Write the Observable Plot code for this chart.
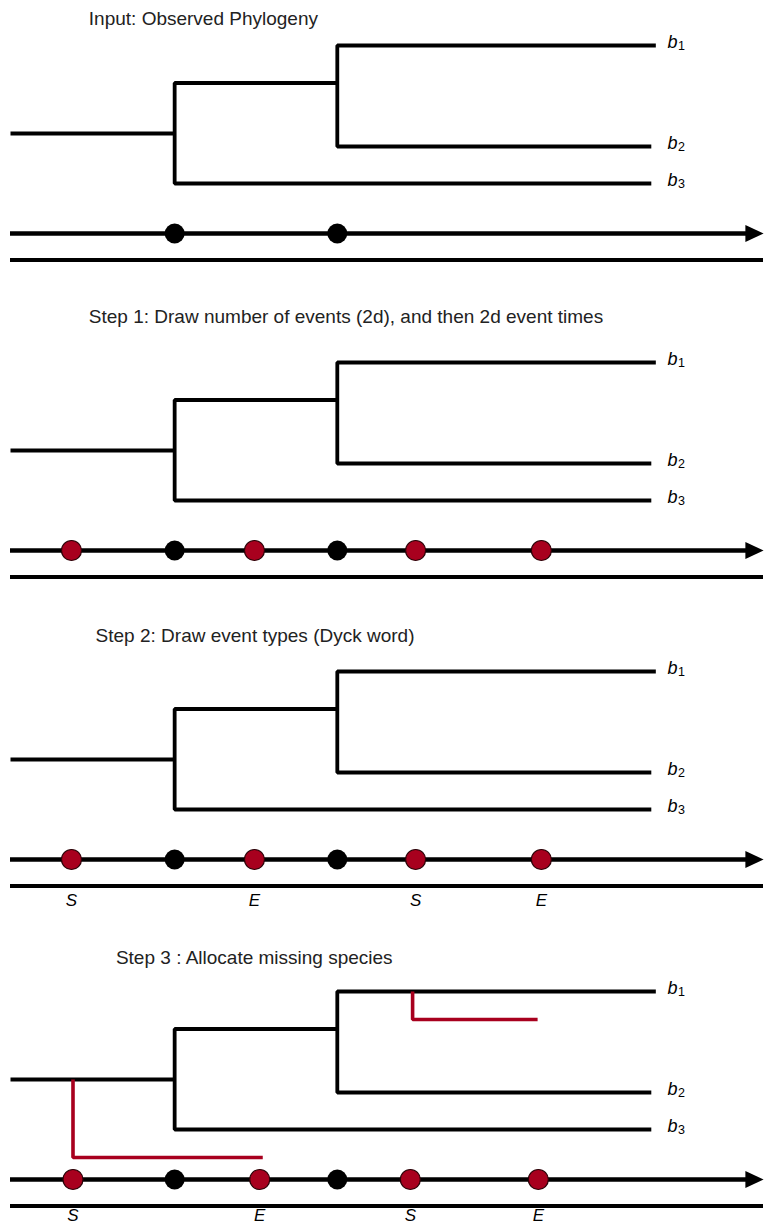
<!DOCTYPE html>
<html>
<head>
<meta charset="utf-8">
<script src="https://cdn.jsdelivr.net/npm/d3@7"></script>
<script src="https://cdn.jsdelivr.net/npm/@observablehq/plot@0.6"></script>
<style>
  html, body { margin: 0; padding: 0; background: #fff; }
  #chart svg { display: block; }
</style>
</head>
<body>
<div id="chart"></div>
<script>
// ---------------- data ----------------
// Panel titles (one per step)
const panelTitles = [
  "Input: Observed Phylogeny",
  "Step 1: Draw number of events (2d), and then 2d event times",
  "Step 2: Draw event types (Dyck word)",
  "Step 3 : Allocate missing species"
];
// vertical position (diagram units) of the b1 row in each panel
const panelRow = [45, 362, 671, 991];
// title row (relative to panel) and start time of each title
const titleRow = [-27, -46, -36, -34];
const titleTime = [10.4, 10.4, 11.3, 14.0];

// observed tree (time runs 0..100 along the axis)
const tipNames = ["1", "2", "3"];          // b subscripts
const tipRows = [0, 101, 138];             // rows of b1, b2, b3
const tipEnd = [85.7, 85.1, 85.1];         // present-day end of each tip
const nodeTimes = [21.8, 43.4];            // observed speciation times
const innerRow = 37.5;                     // row of the internal branch (node 1 -> node 2)
const rootRow = 88;                        // row of the stem branch
const tipLabelTime = 87.25;

// timeline rows (relative to panel)
const timelineRow = 188;
const baseRow = 214.5;
const eventLabelRow = [0, 0, 229, 224.5];  // S/E label row per panel

// events (unobserved speciation S / extinction E)
const eventTimes = [8.1, 32.4, 53.8, 70.5];      // Steps 1 & 2
const eventTimesStep3 = [8.3, 33.1, 53.1, 70.1]; // Step 3
const eventTypes = ["S", "E", "S", "E"];
const eventPanels = [1, 2, 3];                   // panels showing events
const labelPanels = [2, 3];                      // panels showing S/E labels

// missing lineages allocated in Step 3
const missingStart = [8.3, 53.4];
const missingEnd = [33.5, 70.0];
const missingParentRow = [88, 0];
const missingRow = [166, 28];

// ---------------- derived tables ----------------
const RED = "#a8001e";
const panels = d3.range(panelTitles.length);

const treePts = [];
panels.forEach(p => {
  const Y = r => panelRow[p] + r;
  const paths = [
    [[tipEnd[0], tipRows[0]], [nodeTimes[1], tipRows[0]], [nodeTimes[1], tipRows[1]], [tipEnd[1], tipRows[1]]],
    [[nodeTimes[1], innerRow], [nodeTimes[0], innerRow], [nodeTimes[0], tipRows[2]], [tipEnd[2], tipRows[2]]],
    [[0, rootRow], [nodeTimes[0], rootRow]]
  ];
  paths.forEach((path, i) => path.forEach(([t, r]) => treePts.push({id: `${p}-${i}`, t, y: Y(r)})));
});

const missPts = [];
missingStart.forEach((s, i) => {
  const p = 3;
  [[s, missingParentRow[i]], [s, missingRow[i]], [missingEnd[i], missingRow[i]]]
    .forEach(([t, r]) => missPts.push({id: i, t, y: panelRow[p] + r}));
});

const nodeDots = [];
panels.forEach(p => nodeTimes.forEach(t => nodeDots.push({t, y: panelRow[p] + timelineRow})));

const eventDots = [];
eventPanels.forEach(p => {
  const times = p === 3 ? eventTimesStep3 : eventTimes;
  times.forEach((t, i) => eventDots.push({t, type: eventTypes[i], p, y: panelRow[p] + timelineRow, ly: panelRow[p] + eventLabelRow[p]}));
});
const eventLabels = eventDots.filter(d => labelPanels.includes(d.p));

const tipLabelData = [];
panels.forEach(p => tipNames.forEach((n, i) => tipLabelData.push({n, t: tipLabelTime, y: panelRow[p] + tipRows[i]})));

const titleData = panels.map(p => ({title: panelTitles[p], t: titleTime[p], y: panelRow[p] + titleRow[p]}));
const axisData = panels.map(p => ({y: panelRow[p] + timelineRow, y2: panelRow[p] + baseRow}));

// right-pointing filled arrow head
const arrowHead = {
  draw(ctx, size) {
    const r = Math.sqrt(size / Math.PI);
    ctx.moveTo(r * 1.4, 0);
    ctx.lineTo(-r * 1.4, -r * 1.3);
    ctx.lineTo(-r * 1.4, r * 1.3);
    ctx.closePath();
  }
};

const W = 770, H = 1227;
const chart = Plot.plot({
  width: W,
  height: H,
  margin: 0,
  x: {domain: [0, 100], range: [10, 763], axis: null},
  y: {domain: [0, H], range: [0, H], axis: null},
  style: {fontFamily: "'Liberation Sans', Arial, Helvetica, sans-serif", background: "#fff"},
  marks: [
    // timeline and base line
    Plot.ruleY(axisData, {y: "y", x1: 0, x2: 98.6, stroke: "#000", strokeWidth: 4.5}),
    Plot.dot(axisData, {x: 100, y: "y", r: 6.5, symbol: arrowHead, fill: "#000", stroke: "none", dx: -9}),
    Plot.ruleY(axisData, {y: "y2", x1: 0, x2: 100, stroke: "#000", strokeWidth: 4}),
    // tree
    Plot.line(treePts, {x: "t", y: "y", z: "id", stroke: "#000", strokeWidth: 3.8, strokeLinejoin: "miter", strokeLinecap: "butt", curve: "linear"}),
    // missing lineages
    Plot.line(missPts, {x: "t", y: "y", z: "id", stroke: RED, strokeWidth: 3.6, strokeLinejoin: "miter", strokeLinecap: "butt"}),
    // event dots
    Plot.dot(nodeDots, {x: "t", y: "y", r: 10, fill: "#000", stroke: "none"}),
    Plot.dot(eventDots, {x: "t", y: "y", r: 10, fill: RED, stroke: "#2a0006", strokeWidth: 1.2}),
    // S / E labels
    Plot.text(eventLabels, {x: "t", y: "ly", text: "type", fontSize: 17, fontStyle: "italic", fill: "#000", textAnchor: "middle", lineAnchor: "middle"}),
    // tip labels b_i
    Plot.text(tipLabelData, {x: "t", y: "y", text: () => "b", fontSize: 18, fontStyle: "italic", fill: "#000", textAnchor: "start", lineAnchor: "bottom", dy: 2.5}),
    Plot.text(tipLabelData, {x: "t", y: "y", text: "n", fontSize: 12.5, fill: "#000", textAnchor: "start", lineAnchor: "bottom", dx: 10.5, dy: 4.5}),
    // titles
    Plot.text(titleData, {x: "t", y: "y", text: "title", fontSize: 19, fill: "#222", textAnchor: "start", lineAnchor: "middle"})
  ]
});
document.getElementById("chart").append(chart);
</script>
</body>
</html>
